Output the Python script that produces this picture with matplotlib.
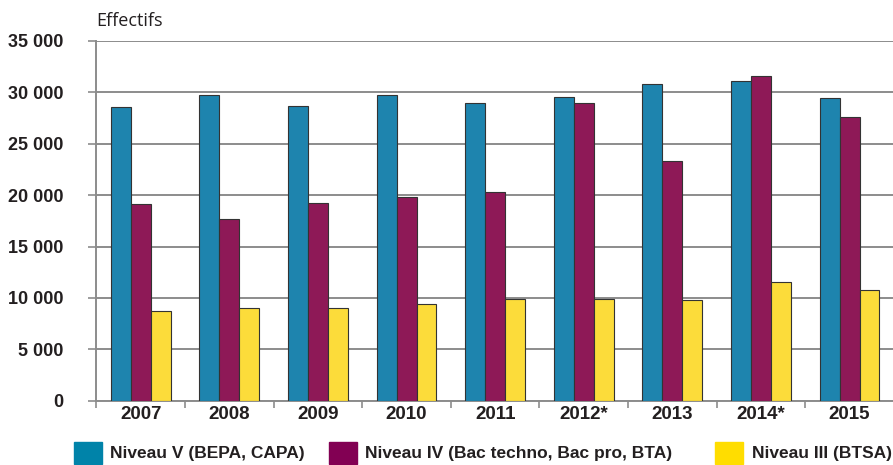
import matplotlib.pyplot as plt
import matplotlib.patches as mpatches
import numpy as np

years = ['2007', '2008', '2009', '2010', '2011', '2012*', '2013', '2014*', '2015']
niveau_v = [28530, 29730, 28690, 29730, 28980, 29560, 30770, 31090, 29430]
niveau_iv = [19130, 17710, 19270, 19790, 20340, 28980, 23360, 31610, 27580]
niveau_iii = [8700, 9065, 9065, 9420, 9875, 9875, 9810, 11570, 10820]
labels = ['Niveau V (BEPA, CAPA)', 'Niveau IV (Bac techno, Bac pro, BTA)', 'Niveau III (BTSA)']
yticks = [0, 5000, 10000, 15000, 20000, 25000, 30000, 35000]

bar_cols = ['#1E84AE', '#8E1957', '#FCDC3A']
leg_cols = ['#0083A9', '#820053', '#FFDD00']
txt = '#231F20'
grid = '#8C8C8C'
plt.rcParams['font.family'] = ['Liberation Sans', 'DejaVu Sans']

fig = plt.figure(figsize=(8.93, 4.65), dpi=100)
ax = fig.add_axes([0.108, 0.138, 0.893, 0.774])

x = np.arange(len(years))
w = 0.225
for i, vals in enumerate([niveau_v, niveau_iv, niveau_iii]):
    ax.bar(x + (i - 1) * w, vals, w, color=bar_cols[i], edgecolor='#333333',
           linewidth=0.8, zorder=3)

ax.set_xlim(-0.5, len(years) - 0.5)
ax.set_ylim(0, 35000)
ax.set_yticks(yticks)
ax.set_yticklabels(['{:,}'.format(v).replace(',', ' ') for v in yticks],
                   fontsize=13, fontweight='bold', color=txt)
ax.set_xticks(x)
ax.set_xticklabels(years, fontsize=13.5, fontweight='bold', color=txt)
ax.set_xticks(np.arange(len(years) + 1) - 0.5, minor=True)
ax.tick_params(axis='x', which='major', length=0, pad=4)
ax.tick_params(axis='x', which='minor', length=5, color=grid, width=1.2)
ax.tick_params(axis='y', length=6, color=grid, width=1.2, pad=18)
ax.grid(axis='y', color=grid, linewidth=1.4, zorder=0)
ax.set_axisbelow(True)
for s in ['left', 'bottom', 'right']:
    ax.spines[s].set_color(grid)
    ax.spines[s].set_linewidth(1.4)
ax.spines['top'].set_visible(False)

fig.text(0.108, 1 - 21 / 465, 'Effectifs', fontsize=13, family=['Open Sans', 'DejaVu Sans'],
         color=txt, va='center', ha='left')

# legend
sq = [(74, 110.5), (329, 365), (715, 752)]
for (px, tx), c, lab in zip(sq, leg_cols, labels):
    fig.patches.append(mpatches.Rectangle((px / 893, 1 - 464 / 465), 28 / 893, 22.5 / 465,
                                          transform=fig.transFigure, color=c, figure=fig))
    fig.text(tx / 893, 1 - 453 / 465, lab, fontsize=12.5, fontweight='bold', color=txt,
             va='center', ha='left')

fig.savefig('out.png', dpi=100)
